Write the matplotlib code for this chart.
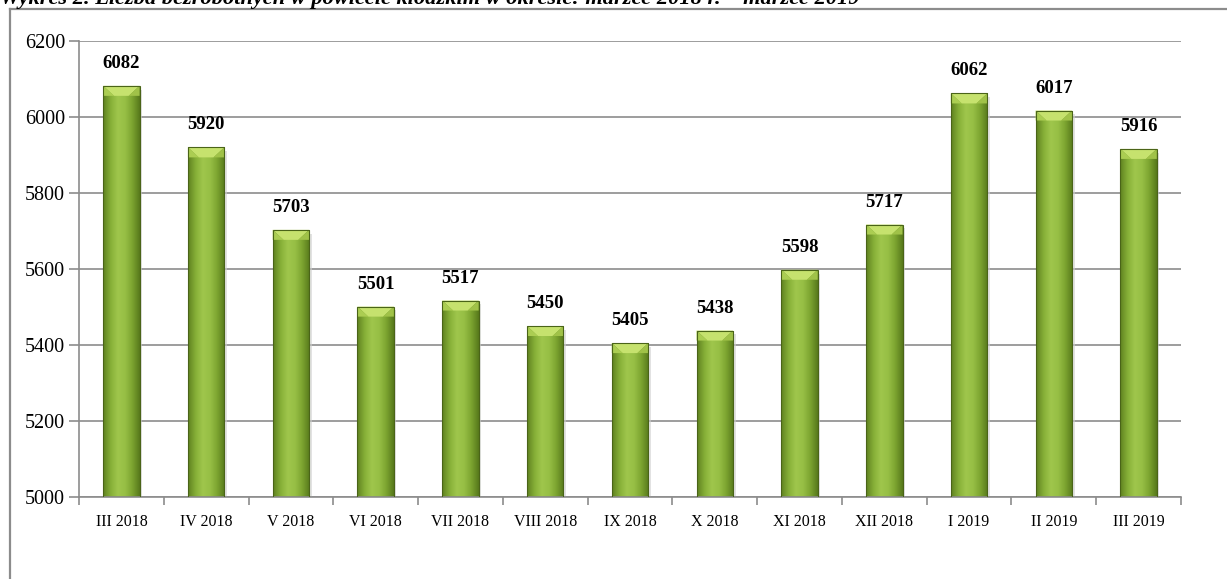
import numpy as np
import matplotlib
matplotlib.use("Agg")
import matplotlib.pyplot as plt
from matplotlib.patches import Polygon
from matplotlib.lines import Line2D
from matplotlib.colors import LinearSegmentedColormap

# data
months = ["III 2018", "IV 2018", "V 2018", "VI 2018", "VII 2018", "VIII 2018",
          "IX 2018", "X 2018", "XI 2018", "XII 2018", "I 2019", "II 2019", "III 2019"]
unemployed = [6082, 5920, 5703, 5501, 5517, 5450, 5405, 5438, 5598, 5717, 6062, 6017, 5916]
y_ticks = [5000, 5200, 5400, 5600, 5800, 6000, 6200]
title = "Wykres 2. Liczba bezrobotnych w powiecie kłodzkim w okresie: marzec 2018 r. – marzec 2019"

W, H = 1227, 579
plt.rcParams["font.family"] = ["Liberation Serif", "DejaVu Serif"]

fig = plt.figure(figsize=(W / 100, H / 100), dpi=100)
ax = fig.add_axes([79 / W, 1 - 497 / H, (1181 - 79) / W, (497 - 41) / H])

# outer frame, cut by the page edges
fig.add_artist(Line2D([10 / W, 10 / W], [1 - 9 / H, 0], transform=fig.transFigure,
                      color="#8c8c8c", lw=1.6))
fig.add_artist(Line2D([10 / W, 1], [1 - 9 / H, 1 - 9 / H], transform=fig.transFigure,
                      color="#8c8c8c", lw=1.6))

# title, upper half cut off by top edge; scaled to the width seen in the original
t = fig.text(0.0, 1 - 4 / H, title, ha="left", va="baseline", fontsize=14,
             fontweight="bold", fontstyle="italic")
r = fig.canvas.get_renderer()
tw = t.get_window_extent(r).width
t.set_fontsize(14 * 860 / tw)

ymin, ymax = 5000, 6200
ax.set_xlim(-0.5, len(months) - 0.5)
ax.set_ylim(ymin, ymax)

cmap = LinearSegmentedColormap.from_list(
    "bar", ["#5f8220", "#86af37", "#9fc64c", "#97bf45", "#7ca430", "#587a1c"])
grad = np.linspace(0, 1, 64).reshape(1, -1)

bw = 0.43
px_per_unit = (497 - 41) / (ymax - ymin)
bevel = 10 / px_per_unit
inset = bw * 0.3

x = np.arange(len(months))
bars = ax.bar(x, np.array(unemployed) - ymin, bw, bottom=ymin,
              facecolor="none", edgecolor="#4a6418", lw=0.8, zorder=3)
for xi, val, bar in zip(x, unemployed, bars):
    x0, x1 = xi - bw / 2, xi + bw / 2
    # soft shadow
    ax.add_patch(Polygon([(x0 + 0.02, ymin), (x1 + 0.03, ymin), (x1 + 0.03, val - 10),
                          (x1, val - 10), (x1, ymin + 5)], closed=True,
                         facecolor="#cfcfcf", edgecolor="none", alpha=0.6, zorder=2))
    im = ax.imshow(grad, cmap=cmap, extent=(x0, x1, ymin, val), aspect="auto",
                   zorder=2.5, interpolation="bicubic")
    im.set_clip_path(bar)
    # bevelled top
    ax.add_patch(Polygon([(x0, val), (x1, val), (x1 - inset, val - bevel),
                          (x0 + inset, val - bevel)], closed=True,
                         facecolor="#c6e26e", edgecolor="none", zorder=2.8))
    ax.add_patch(Polygon([(x0, val), (x0 + inset, val - bevel), (x0, val - bevel)],
                         closed=True, facecolor="#abcd52", edgecolor="none", zorder=2.8))
    ax.add_patch(Polygon([(x1, val), (x1 - inset, val - bevel), (x1, val - bevel)],
                         closed=True, facecolor="#a0c248", edgecolor="none", zorder=2.8))
    ax.text(xi, val + 14 / px_per_unit, str(val), ha="center", va="bottom",
            fontsize=13.5, fontweight="bold", zorder=4)

ax.set_yticks(y_ticks)
ax.tick_params(axis="y", length=7, color="#8c8c8c", width=1.2, labelsize=14.5, pad=3)
ax.yaxis.grid(True, color="#8c8c8c", lw=1.2, zorder=0)
ax.set_axisbelow(True)

ax.set_xticks(x)
ax.set_xticklabels(months, fontsize=11.5)
ax.set_xticks(np.arange(-0.5, len(months)), minor=True)
ax.tick_params(axis="x", which="major", length=0, pad=12)
ax.tick_params(axis="x", which="minor", length=6, color="#8c8c8c", width=1.2)

for side in ("top", "right"):
    ax.spines[side].set_visible(False)
for side in ("left", "bottom"):
    ax.spines[side].set_color("#8c8c8c")
    ax.spines[side].set_linewidth(1.2)

fig.savefig("out.png", dpi=100)
